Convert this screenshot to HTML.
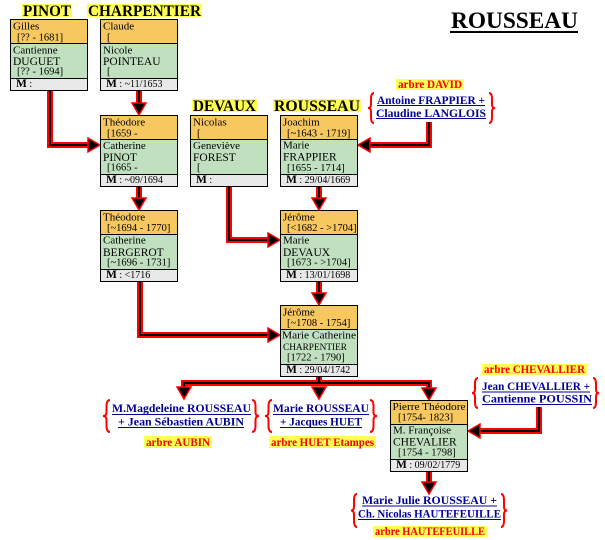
<!DOCTYPE html>
<html>
<head>
<meta charset="utf-8">
<style>
html,body{margin:0;padding:0;background:#fff;}
svg{display:block;}
text{font-family:"Liberation Serif",serif;}
.bx{font-size:11px;fill:#000;}
.dt{font-size:10.5px;fill:#000;}
.sn{font-size:11.5px;fill:#000;}
.mr{font-size:10px;fill:#000;}
.mb{font-size:11.5px;font-weight:bold;}
.hd{font-size:16px;font-weight:bold;fill:#000;}
.lb{font-size:11.5px;font-weight:bold;fill:#ff0000;}
.lk{font-size:11.5px;font-weight:bold;fill:#000099;}
</style>
</head>
<body>
<svg width="605" height="540" viewBox="0 0 605 540" xmlns="http://www.w3.org/2000/svg">
<rect width="605" height="540" fill="#fff"/>

<!-- Title -->
<text x="451" y="28" font-size="23" font-weight="bold" textLength="127" lengthAdjust="spacingAndGlyphs" fill="#000">ROUSSEAU</text>
<rect x="450" y="31" width="128" height="2" fill="#000"/>

<!-- Headings -->
<rect x="22" y="4" width="50" height="13" fill="#ffff55"/>
<text class="hd" x="23" y="16" textLength="48" lengthAdjust="spacingAndGlyphs">PINOT</text>
<rect x="87" y="4" width="115" height="13" fill="#ffff55"/>
<text class="hd" x="88" y="16" textLength="113" lengthAdjust="spacingAndGlyphs">CHARPENTIER</text>
<rect x="192" y="99" width="65" height="13" fill="#ffff55"/>
<text class="hd" x="193" y="111" textLength="63" lengthAdjust="spacingAndGlyphs">DEVAUX</text>
<rect x="273" y="99" width="88" height="13" fill="#ffff55"/>
<text class="hd" x="274" y="111" textLength="86" lengthAdjust="spacingAndGlyphs">ROUSSEAU</text>

<!-- Connectors -->
<g fill="none" stroke="#ff0000" stroke-width="6" stroke-linejoin="miter">
  <path d="M50 90V145H89"/>
  <path d="M139 90V104"/>
  <path d="M429 122V145H370"/>
  <path d="M139 186V199"/>
  <path d="M229 186V240H269"/>
  <path d="M319 186V199"/>
  <path d="M140 281V335H269"/>
  <path d="M319 281V294"/>
  <path d="M319 375V383"/>
  <path d="M184 389V383H429V389"/>
  <path d="M539 407V431H480"/>
  <path d="M429 470V482"/>
</g>
<g fill="none" stroke="#000" stroke-width="2" stroke-linejoin="miter">
  <path d="M50 90V145H89"/>
  <path d="M139 90V104"/>
  <path d="M429 122V145H370"/>
  <path d="M139 186V199"/>
  <path d="M229 186V240H269"/>
  <path d="M319 186V199"/>
  <path d="M140 281V335H269"/>
  <path d="M319 281V294"/>
  <path d="M319 375V383"/>
  <path d="M184 389V383H429V389"/>
  <path d="M539 407V431H480"/>
  <path d="M429 470V482"/>
</g>
<g fill="#000" stroke="#ff0000" stroke-width="1.5" stroke-linejoin="miter">
  <polygon points="88,138 88,152 100,145"/>
  <polygon points="132,103 146,103 139,115"/>
  <polygon points="370,138 370,152 358,145"/>
  <polygon points="132,198 146,198 139,210"/>
  <polygon points="268,233 268,247 280,240"/>
  <polygon points="312,198 326,198 319,210"/>
  <polygon points="268,328 268,342 280,335"/>
  <polygon points="312,293 326,293 319,305"/>
  <polygon points="177,387 191,387 184,399"/>
  <polygon points="312,387 326,387 319,399"/>
  <polygon points="422,388 436,388 429,400"/>
  <polygon points="480,424 480,438 468,431"/>
  <polygon points="422,482 436,482 429,494"/>
</g>

<!-- Boxes -->
<!-- A Gilles -->
<g transform="translate(10,19)">
  <rect width="78" height="72" fill="#000"/>
  <rect x="1" y="1" width="76" height="23" fill="#f8c860"/>
  <rect x="1" y="25" width="76" height="34" fill="#c0e0c0"/>
  <rect x="1" y="60" width="76" height="11" fill="#e8e8e8"/>
  <text class="bx" x="3" y="10.5">Gilles</text>
  <text class="dt" x="7" y="21.5">[?? - 1681]</text>
  <text class="bx" x="3" y="34.5">Cantienne</text>
  <text class="sn" x="3" y="46">DUGUET</text>
  <text class="dt" x="7" y="55.5">[?? - 1694]</text>
  <text class="mr" x="6" y="68"><tspan class="mb">M</tspan> :</text>
</g>
<!-- B Claude -->
<g transform="translate(100,19)">
  <rect width="78" height="72" fill="#000"/>
  <rect x="1" y="1" width="76" height="23" fill="#f8c860"/>
  <rect x="1" y="25" width="76" height="34" fill="#c0e0c0"/>
  <rect x="1" y="60" width="76" height="11" fill="#e8e8e8"/>
  <text class="bx" x="3" y="10.5">Claude</text>
  <text class="dt" x="7" y="21.5">[</text>
  <text class="bx" x="3" y="34.5">Nicole</text>
  <text class="sn" x="3" y="46">POINTEAU</text>
  <text class="dt" x="7" y="55.5">[</text>
  <text class="mr" x="6" y="68"><tspan class="mb">M</tspan> : ~11/1653</text>
</g>
<!-- C Théodore / Pinot -->
<g transform="translate(100,115)">
  <rect width="78" height="72" fill="#000"/>
  <rect x="1" y="1" width="76" height="23" fill="#f8c860"/>
  <rect x="1" y="25" width="76" height="34" fill="#c0e0c0"/>
  <rect x="1" y="60" width="76" height="11" fill="#e8e8e8"/>
  <text class="bx" x="3" y="10.5">Théodore</text>
  <text class="dt" x="7" y="21.5">[1659 -</text>
  <text class="bx" x="3" y="34">Catherine</text>
  <text class="sn" x="3" y="46">PINOT</text>
  <text class="dt" x="7" y="55.5">[1665 -</text>
  <text class="mr" x="6" y="68"><tspan class="mb">M</tspan> : ~09/1694</text>
</g>
<!-- D Nicolas -->
<g transform="translate(190,115)">
  <rect width="78" height="72" fill="#000"/>
  <rect x="1" y="1" width="76" height="23" fill="#f8c860"/>
  <rect x="1" y="25" width="76" height="34" fill="#c0e0c0"/>
  <rect x="1" y="60" width="76" height="11" fill="#e8e8e8"/>
  <text class="bx" x="3" y="10.5">Nicolas</text>
  <text class="dt" x="7" y="21.5">[</text>
  <text class="bx" x="3" y="34">Geneviève</text>
  <text class="sn" x="3" y="46">FOREST</text>
  <text class="dt" x="7" y="55.5">[</text>
  <text class="mr" x="6" y="68"><tspan class="mb">M</tspan> :</text>
</g>
<!-- E Joachim -->
<g transform="translate(280,115)">
  <rect width="78" height="72" fill="#000"/>
  <rect x="1" y="1" width="76" height="23" fill="#f8c860"/>
  <rect x="1" y="25" width="76" height="34" fill="#c0e0c0"/>
  <rect x="1" y="60" width="76" height="11" fill="#e8e8e8"/>
  <text class="bx" x="3" y="10.5">Joachim</text>
  <text class="dt" x="7" y="21.5">[~1643 - 1719]</text>
  <text class="bx" x="3" y="33.5">Marie</text>
  <text class="sn" x="3" y="45.5">FRAPPIER</text>
  <text class="dt" x="7" y="56">[1655 - 1714]</text>
  <text class="mr" x="6" y="68"><tspan class="mb">M</tspan> : 29/04/1669</text>
</g>
<!-- F Théodore / Bergerot -->
<g transform="translate(100,210)">
  <rect width="78" height="72" fill="#000"/>
  <rect x="1" y="1" width="76" height="23" fill="#f8c860"/>
  <rect x="1" y="25" width="76" height="34" fill="#c0e0c0"/>
  <rect x="1" y="60" width="76" height="11" fill="#e8e8e8"/>
  <text class="bx" x="3" y="10.5">Théodore</text>
  <text class="dt" x="7" y="21">[~1694 - 1770]</text>
  <text class="bx" x="3" y="33.5">Catherine</text>
  <text class="sn" x="3" y="46">BERGEROT</text>
  <text class="dt" x="7" y="55.5">[~1696 - 1731]</text>
  <text class="mr" x="6" y="68"><tspan class="mb">M</tspan> : &lt;1716</text>
</g>
<!-- G Jérôme / Devaux -->
<g transform="translate(280,210)">
  <rect width="78" height="72" fill="#000"/>
  <rect x="1" y="1" width="76" height="23" fill="#f8c860"/>
  <rect x="1" y="25" width="76" height="34" fill="#c0e0c0"/>
  <rect x="1" y="60" width="76" height="11" fill="#e8e8e8"/>
  <text class="bx" x="3" y="10.5">Jérôme</text>
  <text class="dt" x="7" y="21">[&lt;1682 - &gt;1704]</text>
  <text class="bx" x="3" y="33.5">Marie</text>
  <text class="sn" x="3" y="46">DEVAUX</text>
  <text class="dt" x="7" y="55.5">[1673 - &gt;1704]</text>
  <text class="mr" x="6" y="68"><tspan class="mb">M</tspan> : 13/01/1698</text>
</g>
<!-- H Jérôme / Charpentier -->
<g transform="translate(280,305)">
  <rect width="78" height="72" fill="#000"/>
  <rect x="1" y="1" width="76" height="23" fill="#f8c860"/>
  <rect x="1" y="25" width="76" height="34" fill="#c0e0c0"/>
  <rect x="1" y="60" width="76" height="11" fill="#e8e8e8"/>
  <text class="bx" x="3" y="10.5">Jérôme</text>
  <text class="dt" x="7" y="21">[~1708 - 1754]</text>
  <text class="bx" x="2" y="33.5" textLength="74" lengthAdjust="spacingAndGlyphs">Marie Catherine</text>
  <text x="3" y="45" font-size="9.5" fill="#000" textLength="64" lengthAdjust="spacingAndGlyphs">CHARPENTIER</text>
  <text class="dt" x="7" y="55.5">[1722 - 1790]</text>
  <text class="mr" x="6" y="68"><tspan class="mb">M</tspan> : 29/04/1742</text>
</g>
<!-- I Pierre Théodore -->
<g transform="translate(390,400)">
  <rect width="78" height="72" fill="#000"/>
  <rect x="1" y="1" width="76" height="23" fill="#f8c860"/>
  <rect x="1" y="25" width="76" height="34" fill="#c0e0c0"/>
  <rect x="1" y="60" width="76" height="11" fill="#e8e8e8"/>
  <text class="bx" x="2.5" y="10" textLength="73" lengthAdjust="spacingAndGlyphs">Pierre Théodore</text>
  <text class="dt" x="8" y="20.5">[1754- 1823]</text>
  <text class="bx" x="3" y="33.5">M. Françoise</text>
  <text class="sn" x="3" y="45.5">CHEVALIER</text>
  <text class="dt" x="8" y="55.5">[1754 - 1798]</text>
  <text class="mr" x="6" y="68"><tspan class="mb">M</tspan> : 09/02/1779</text>
</g>

<!-- Braces -->
<g fill="none" stroke="#ff0000" stroke-width="2">
  <path d="M374 93 Q371 93 371 99 L371 104.4 Q371 108 368 108 Q371 108 371 111.6 L371 117 Q371 123 374 123"/>
  <path d="M489 93 Q492 93 492 99 L492 104.4 Q492 108 495 108 Q492 108 492 111.6 L492 117 Q492 123 489 123"/>
  <path d="M110 400 Q106.5 400 106.5 406.4 L106.5 412.2 Q106.5 416 103 416 Q106.5 416 106.5 419.8 L106.5 425.6 Q106.5 432 110 432"/>
  <path d="M252 400 Q255.5 400 255.5 406.4 L255.5 412.2 Q255.5 416 259 416 Q255.5 416 255.5 419.8 L255.5 425.6 Q255.5 432 252 432"/>
  <path d="M272 400 Q268.5 400 268.5 406.4 L268.5 412.2 Q268.5 416 265 416 Q268.5 416 268.5 419.8 L268.5 425.6 Q268.5 432 272 432"/>
  <path d="M370 400 Q373.5 400 373.5 406.4 L373.5 412.2 Q373.5 416 377 416 Q373.5 416 373.5 419.8 L373.5 425.6 Q373.5 432 370 432"/>
  <path d="M478 378 Q475 378 475 384 L475 389.4 Q475 393 472 393 Q475 393 475 396.6 L475 402 Q475 408 478 408"/>
  <path d="M593 378 Q596 378 596 384 L596 389.4 Q596 393 599 393 Q596 393 596 396.6 L596 402 Q596 408 593 408"/>
  <path d="M357 494 Q354 494 354 500.6 L354 506.5 Q354 510.5 351 510.5 Q354 510.5 354 514.5 L354 520.4 Q354 527 357 527"/>
  <path d="M501 494 Q504 494 504 500.6 L504 506.5 Q504 510.5 507 510.5 Q504 510.5 504 514.5 L504 520.4 Q504 527 501 527"/>
</g>

<!-- "arbre" labels -->
<rect x="396" y="79" width="68" height="11" fill="#ffff55"/>
<text class="lb" x="398" y="88" textLength="64" lengthAdjust="spacingAndGlyphs">arbre DAVID</text>
<rect x="144" y="436" width="68" height="12" fill="#ffff55"/>
<text class="lb" x="146" y="446" textLength="64" lengthAdjust="spacingAndGlyphs">arbre AUBIN</text>
<rect x="269" y="436" width="107" height="12" fill="#ffff55"/>
<text class="lb" x="271" y="446" textLength="103" lengthAdjust="spacingAndGlyphs">arbre HUET Etampes</text>
<rect x="482" y="364" width="105" height="11" fill="#ffff55"/>
<text class="lb" x="484" y="373" textLength="101" lengthAdjust="spacingAndGlyphs">arbre  CHEVALLIER</text>
<rect x="373" y="526" width="114" height="11" fill="#ffff55"/>
<text class="lb" x="375" y="535" textLength="110" lengthAdjust="spacingAndGlyphs">arbre HAUTEFEUILLE</text>

<!-- Links -->
<g fill="#000099">
  <text class="lk" x="377" y="104" textLength="108" lengthAdjust="spacingAndGlyphs">Antoine FRAPPIER +</text>
  <rect x="377" y="105" width="108" height="1"/>
  <text class="lk" x="376" y="117" textLength="110" lengthAdjust="spacingAndGlyphs">Claudine LANGLOIS</text>
  <rect x="376" y="118" width="110" height="1"/>

  <text class="lk" x="112" y="412" textLength="139" lengthAdjust="spacingAndGlyphs">M.Magdeleine ROUSSEAU</text>
  <rect x="112" y="414" width="139" height="1"/>
  <text class="lk" x="118" y="425.5" textLength="126" lengthAdjust="spacingAndGlyphs">+ Jean Sébastien AUBIN</text>
  <rect x="118" y="427" width="126" height="1"/>

  <text class="lk" x="273" y="412" textLength="96" lengthAdjust="spacingAndGlyphs">Marie ROUSSEAU</text>
  <rect x="273" y="414" width="96" height="1"/>
  <text class="lk" x="280" y="425.5" textLength="82" lengthAdjust="spacingAndGlyphs">+ Jacques HUET</text>
  <rect x="280" y="427" width="82" height="1"/>

  <text class="lk" x="482" y="390" textLength="108" lengthAdjust="spacingAndGlyphs">Jean CHEVALLIER +</text>
  <rect x="482" y="391.5" width="108" height="1"/>
  <text class="lk" x="482" y="402.5" textLength="110" lengthAdjust="spacingAndGlyphs">Cantienne POUSSIN</text>
  <rect x="482" y="404" width="110" height="1"/>

  <text class="lk" x="362" y="504" textLength="135" lengthAdjust="spacingAndGlyphs">Marie Julie ROUSSEAU +</text>
  <rect x="362" y="505.5" width="135" height="1"/>
  <text class="lk" x="358" y="517.5" textLength="143" lengthAdjust="spacingAndGlyphs">Ch. Nicolas HAUTEFEUILLE</text>
  <rect x="358" y="519" width="143" height="1"/>
</g>
</svg>
</body>
</html>
